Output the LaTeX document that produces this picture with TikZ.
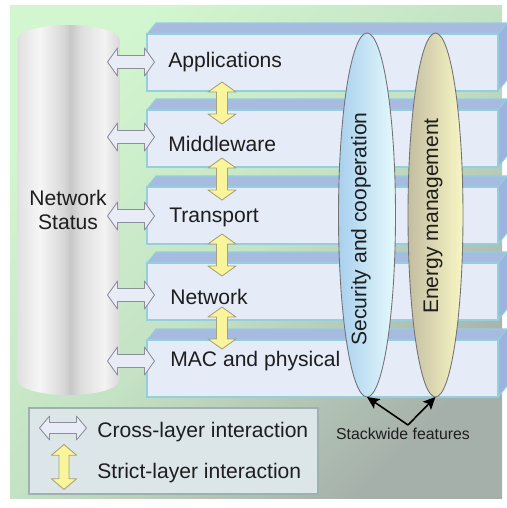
\documentclass[tikz,border=0pt]{standalone}
\usepackage{fontspec}
\setmainfont{Liberation Sans}
\usetikzlibrary{shapes.geometric,arrows.meta}

\definecolor{panelgreen}{HTML}{D2F6CF}
\definecolor{panelmid}{HTML}{C4E2C4}
\definecolor{panelgray}{HTML}{A6B0AA}
\definecolor{frontface}{HTML}{E6EBF8}
\definecolor{topface}{HTML}{A7BBE0}
\definecolor{sideface}{HTML}{9DB3DF}
\definecolor{edgecyan}{HTML}{93CFDD}
\definecolor{hollowfill}{HTML}{E8ECF7}
\definecolor{hollowedge}{HTML}{8C8F98}
\definecolor{strictfill}{HTML}{FAF49A}
\definecolor{strictedge}{HTML}{A6A27A}
\definecolor{secleft}{HTML}{A9D0EE}
\definecolor{secright}{HTML}{E4F9FC}
\definecolor{enleft}{HTML}{C4BEA2}
\definecolor{enright}{HTML}{F8F6C4}
\definecolor{legendfill}{HTML}{DCE6E9}
\definecolor{legendedge}{HTML}{A0B0B0}
\definecolor{ink}{HTML}{1E1E1E}
\definecolor{cylA}{HTML}{E0E0E0}
\definecolor{cylB}{HTML}{F6F6F6}
\definecolor{cylC}{HTML}{D8D8D8}
\definecolor{cylD}{HTML}{C8C8C8}
\definecolor{cylE}{HTML}{DEDEDE}
\definecolor{cylF}{HTML}{F3F3F3}
\definecolor{cylG}{HTML}{D8D8D8}

% left-to-right shading of the status cylinder
\pgfdeclarehorizontalshading{cylshade}{100bp}{%
  color(0bp)=(cylA); color(25bp)=(cylA); color(36bp)=(cylB);
  color(47.5bp)=(cylC); color(51bp)=(cylD); color(56bp)=(cylE);
  color(67.5bp)=(cylF); color(75bp)=(cylG); color(100bp)=(cylG)}

\newcommand\labelfont{\fontsize{12}{13.6}\selectfont}
\newcommand\smallfont{\fontsize{9}{10}\selectfont}

\tikzset{
  layeredge/.style={draw=edgecyan, line width=0.6pt},
  hollowstyle/.style={fill=hollowfill, draw=hollowedge, line width=0.5pt, line join=round},
  strictstyle/.style={fill=strictfill, draw=strictedge, line width=0.5pt, line join=round},
  layerlabel/.style={anchor=base west, inner sep=0pt, text=ink, font=\labelfont},
  feature/.style={ellipse, inner sep=0pt, outer sep=0pt, draw=black!55,
    line width=0.5pt, minimum height=7.28cm},
  featurelabel/.style={rotate=90, inner sep=0pt, text=ink, font=\labelfont},
  featurearrow/.style={draw=black, line width=0.9pt,
    -{Stealth[length=7pt,width=6.5pt,inset=1.5pt]}},
  pics/crossarrow/.style={code={
    \draw[hollowstyle] (-23.5,0) -- (-13.5,-14) -- (-13.5,-6.5) -- (13.5,-6.5)
      -- (13.5,-14) -- (23.5,0) -- (13.5,14) -- (13.5,6.5) -- (-13.5,6.5)
      -- (-13.5,14) -- cycle;}},
  pics/strictarrow/.style={code={
    \draw[strictstyle] (0,-21) -- (14,-11) -- (5.5,-11) -- (5.5,11) -- (14,11)
      -- (0,21) -- (-14,11) -- (-5.5,11) -- (-5.5,-11) -- (-14,-11) -- cycle;}},
}

\begin{document}
\begin{tikzpicture}[x=0.02cm, y=-0.02cm]
\useasboundingbox (0,0) rectangle (507,508);

% background panel
\shade[top color=panelgreen, bottom color=panelgray, middle color=panelmid,
  shading angle=45] (10,5) rectangle (502,498);

% network status cylinder
\shade[shading=cylshade] (17,40) -- (17,380)
  arc[start angle=180, end angle=0, x radius=51.5, y radius=15]
  -- (120,40)
  arc[start angle=0, end angle=-180, x radius=51.5, y radius=15] -- cycle;
\node[align=center, text=ink, font=\labelfont, inner sep=0pt] (status)
  at (68,210) {Network\\Status};

% protocol layers drawn as flat boxes
\foreach \y in {34,110,187,263,340} {
  \fill[topface] (147,\y) -- (156,\y-11) -- (507,\y-11) -- (498,\y) -- cycle;
  \fill[sideface] (498,\y) -- (507,\y-11) -- (507,\y+46) -- (498,\y+57) -- cycle;
  \draw[layeredge] (147,\y) -- (156,\y-11) -- (507,\y-11);
  \draw[layeredge] (498,\y) -- (507,\y-11);
  \draw[layeredge] (498,\y+57) -- (507,\y+46);
  \draw[layeredge, fill=frontface] (147,\y) rectangle (498,\y+57);
}

\node[layerlabel] (app) at (168,67) {Applications};
\node[layerlabel] (mid) at (168,151) {Middleware};
\node[layerlabel] (trans) at (169,222) {Transport};
\node[layerlabel] (net) at (170,304) {Network};
\node[layerlabel] (mac) at (170,366) {MAC and physical};

% cross-layer interactions with the status store
\foreach \y in {62,137,216,295,361}
  \pic at (131,\y) {crossarrow};

% strict-layer interactions between neighbouring layers
\foreach \y in {103,179,255,328}
  \pic at (222,\y) {strictarrow};

% stackwide features
\node[feature, minimum width=1.14cm, left color=secleft, right color=secright]
  (sec) at (367,215) {};
\node[feature, minimum width=1.1cm, left color=enleft, right color=enright]
  (energy) at (435.5,215) {};
\node[featurelabel] (seclabel) at (361,229) {Security and cooperation};
\node[featurelabel] (enlabel) at (433,216) {Energy management};

\node[text=ink, font=\smallfont, inner sep=0pt] (stack) at (403,434) {Stackwide features};
\coordinate (apex) at (408,425);
\draw[featurearrow] (apex) -- (sec.south);
\draw[featurearrow] (apex) -- (energy.south);

% legend
\draw[fill=legendfill, draw=legendedge, line width=0.6pt] (29,408) rectangle (318,494);
\pic[yscale=0.85] at (63,428) {crossarrow};
\pic[xscale=0.9, yscale=1.07] at (64,467) {strictarrow};
\node[layerlabel] (crosslbl) at (97,437) {Cross-layer interaction};
\node[layerlabel] (strictlbl) at (97,478) {Strict-layer interaction};
\end{tikzpicture}
\end{document}
